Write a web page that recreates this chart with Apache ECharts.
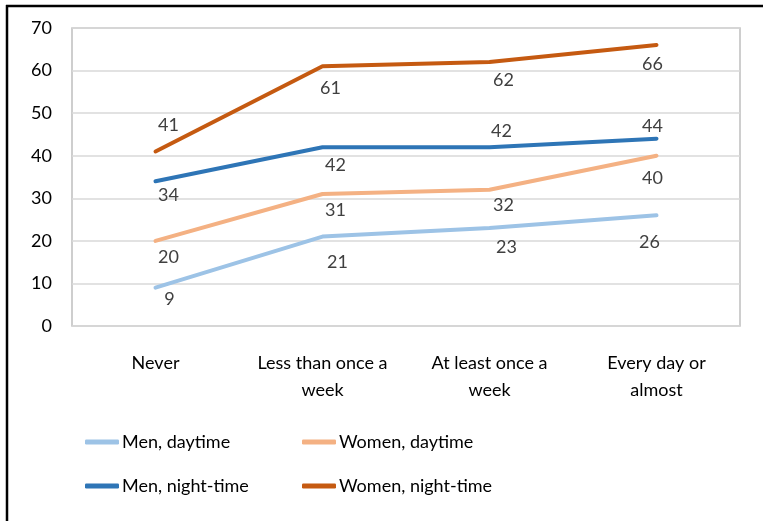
<!DOCTYPE html>
<html>
<head>
<meta charset="utf-8">
<style>
  html, body { margin: 0; padding: 0; background: #fff; }
  #chart { width: 763px; height: 521px; }
</style>
<script src="https://cdn.jsdelivr.net/npm/echarts@6/dist/echarts.min.js"></script>
</head>
<body>
<div id="chart"></div>
<script>
// Frequency categories on the x axis
const categories = ['Never', 'Less than once a\nweek', 'At least once a\nweek', 'Every day or\nalmost'];

// Series values
const menDaytime = [9, 21, 23, 26];
const womenDaytime = [20, 31, 32, 40];
const menNighttime = [34, 42, 42, 44];
const womenNighttime = [41, 61, 62, 66];

// Y axis ticks
const yTicks = [0, 10, 20, 30, 40, 50, 60, 70];

// Label offsets (dx, dy) from each point
const labelOffsets = {
  menDaytime: [[14, 12], [15, 26], [17, 19], [-7, 27]],
  womenDaytime: [[13, 16], [13, 16], [14, 15], [-4, 22]],
  menNighttime: [[13, 14], [13, 18], [12, -16], [-4, -12]],
  womenNighttime: [[13, -26], [8, 22], [14, 18], [-4, 19]]
};

const FONT = 'Lato, sans-serif';
const chart = echarts.init(document.getElementById('chart'));

function makeSeries(name, values, color, offsets) {
  return {
    name: name,
    type: 'line',
    data: values.map((v, i) => ({
      value: v,
      label: { offset: offsets[i] }
    })),
    symbol: 'circle',
    symbolSize: 2,
    itemStyle: { color: color },
    lineStyle: { color: color, width: 4, cap: 'round', join: 'round' },
    label: {
      show: true,
      position: 'inside',
      color: '#404040',
      fontFamily: FONT,
      fontSize: 18
    },
    emphasis: { disabled: true },
    animation: false
  };
}

function makeLegend(name, left, top) {
  return {
    data: [name],
    left: left,
    top: top,
    icon: 'roundRect',
    itemWidth: 34,
    itemHeight: 5,
    padding: 0,
    selectedMode: false,
    textStyle: { fontFamily: FONT, fontSize: 18, color: '#000', padding: [0, 0, 0, -2] }
  };
}

chart.setOption({
  backgroundColor: '#fff',
  animation: false,
  grid: {
    left: 72, right: 23, top: 28, bottom: 195,
    show: true, borderColor: '#bfbfbf', borderWidth: 1.5
  },
  xAxis: {
    type: 'category',
    data: categories,
    boundaryGap: true,
    axisLine: { show: false },
    axisTick: { show: false },
    axisLabel: {
      interval: 0,
      margin: 24,
      color: '#000',
      fontFamily: FONT,
      fontSize: 18,
      lineHeight: 27
    }
  },
  yAxis: {
    type: 'value',
    min: yTicks[0],
    max: yTicks[yTicks.length - 1],
    interval: yTicks[1] - yTicks[0],
    axisLine: { show: false },
    axisTick: { show: false },
    splitLine: { lineStyle: { color: '#d9d9d9', width: 1.5 } },
    axisLabel: {
      margin: 20,
      color: '#000',
      fontFamily: FONT,
      fontSize: 18
    }
  },
  legend: [
    makeLegend('Men, daytime', 85, 433),
    makeLegend('Women, daytime', 302, 433),
    makeLegend('Men, night-time', 85, 477),
    makeLegend('Women, night-time', 302, 477)
  ],
  series: [
    makeSeries('Men, daytime', menDaytime, '#9dc3e6', labelOffsets.menDaytime),
    makeSeries('Women, daytime', womenDaytime, '#f4b183', labelOffsets.womenDaytime),
    makeSeries('Men, night-time', menNighttime, '#2e75b6', labelOffsets.menNighttime),
    makeSeries('Women, night-time', womenNighttime, '#c55a11', labelOffsets.womenNighttime)
  ],
  graphic: [
    { type: 'line', shape: { x1: 6, y1: 6, x2: 763, y2: 6 }, style: { stroke: '#000', lineWidth: 2.5 } },
    { type: 'line', shape: { x1: 7, y1: 5, x2: 7, y2: 521 }, style: { stroke: '#000', lineWidth: 2.5 } }
  ]
});
</script>
</body>
</html>
